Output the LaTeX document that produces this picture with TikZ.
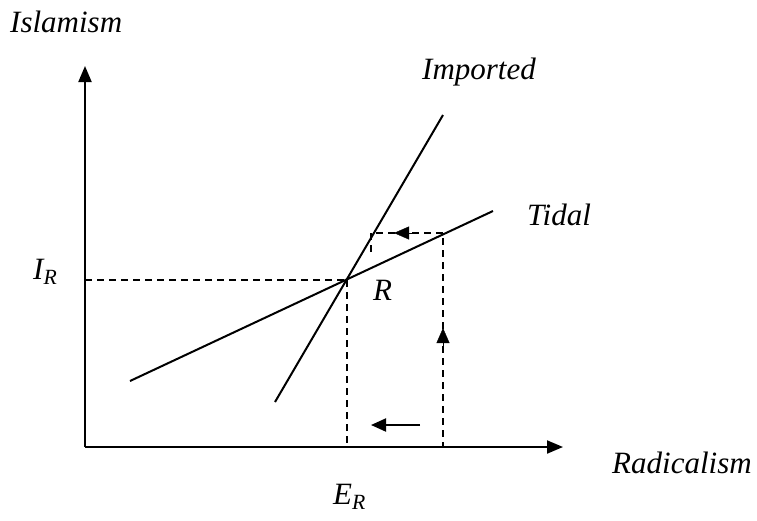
\documentclass[tikz,border=0pt]{standalone}
\usepackage{fontspec}
\setmainfont{Liberation Serif}
\usetikzlibrary{arrows.meta,calc}
\begin{document}
\begin{tikzpicture}[x=1pt,y=-1pt,
  axis/.style={line width=2pt,-{Triangle[length=16pt,width=13pt]}},
  curve/.style={line width=2pt},
  guide/.style={line width=1.8pt,dash pattern=on 7pt off 5pt},
  lbl/.style={font=\fontsize{31}{36}\selectfont\itshape,inner sep=0pt},
  tip/.style={-{Triangle[length=15pt,width=13pt]}}]
\useasboundingbox (0,0) rectangle (757,520);
\coordinate (O) at (85,447);
\coordinate (ytop) at (85,66);
\coordinate (xend) at (563,447);
\draw[axis] (O) -- (ytop);
\draw[axis] (O) -- (xend);
\coordinate (R) at (347,280);
\coordinate (impA) at (275,402);
\coordinate (impB) at (443,115);
\coordinate (tidA) at (130,381);
\coordinate (tidB) at (493,211);
\draw[curve] (impA) -- (impB);
\draw[curve] (tidA) -- (tidB);
\coordinate (Ry) at (O |- R);
\coordinate (Rx) at (R |- O);
\draw[guide] (Ry) -- (R);
\draw[guide] (R) -- (Rx);
\coordinate (c1) at (371,233);
\coordinate (c2) at (443,233);
\coordinate (c1b) at (371,252);
\coordinate (c2b) at (443,447);
\draw[guide] (c1b) -- (c1) -- (c2) -- (c2b);
\coordinate (ha1) at (413,233);
\coordinate (ha2) at (394,233);
\draw[tip] (ha1) -- (ha2);
\coordinate (va1) at (443,348);
\coordinate (va2) at (443,328);
\draw[tip] (va1) -- (va2);
\coordinate (la1) at (420,425);
\coordinate (la2) at (371,425);
\draw[line width=2pt,tip] (la1) -- (la2);
\node[lbl,anchor=west] (tIslam) at (10,22) {Islamism};
\node[lbl,anchor=west] (tImp) at (422,72) {Imported};
\node[lbl,anchor=west] (tTid) at (527,215) {Tidal};
\node[lbl,anchor=west] (tIR) at (33,272) {I\textsubscript{\textit{R}}};
\node[lbl,anchor=west] (tR) at (373,290) {R};
\node[lbl,anchor=west] (tRad) at (612,463) {Radicalism};
\node[lbl,anchor=west] (tER) at (333,497) {E\textsubscript{\textit{R}}};
\end{tikzpicture}
\end{document}
